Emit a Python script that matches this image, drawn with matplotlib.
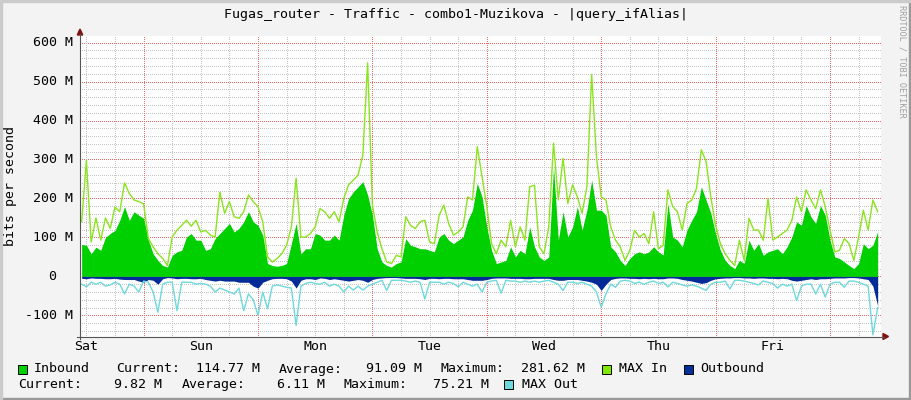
import numpy as np
import matplotlib
matplotlib.use("Agg")
import matplotlib.pyplot as plt
from matplotlib.patches import Rectangle, Polygon
from matplotlib.lines import Line2D
from matplotlib.transforms import blended_transform_factory

# hourly samples, hour 0 = Saturday 00:00
hours = np.arange(11, 179)

# Inbound (M bits/s)
inbound = [
    82, 80, 58, 75, 67, 100, 110, 118, 144, 179, 144, 166, 157, 149, 93, 58, 41, 28, 24, 54, 63, 67, 101, 110, 93, 93,
    67, 71, 97, 110, 123, 136, 114, 123, 140, 166, 140, 131, 106, 33, 28, 26, 28, 33, 84, 136, 58, 71, 71, 110,
    106, 93, 93, 106, 93, 157, 200, 217, 230, 243, 209, 157, 71, 37, 28, 24, 33, 37, 97, 80, 76, 71, 71, 67,
    63, 101, 110, 93, 84, 93, 101, 144, 170, 239, 204, 127, 67, 33, 37, 41, 76, 50, 67, 58, 127, 76, 50, 41, 50,
    281.6, 93, 166, 101, 127, 179, 119, 170, 247, 170, 170, 157, 76, 63, 41, 28, 46, 58, 63, 58, 63, 76, 63, 55,
    187, 101, 93, 76, 119, 144, 166, 230, 196, 162, 110, 67, 41, 28, 20, 41, 33, 93, 67, 84, 54, 63, 67, 71,
    58, 76, 101, 140, 131, 182, 153, 136, 182, 157, 93, 50, 46, 37, 28, 20, 33, 84, 71, 80, 114.8,
]

max_in = [
    140, 298, 88, 150, 93, 150, 123, 178, 166, 240, 213, 196, 192, 186, 97, 76, 58, 46, 28, 101, 119, 131, 144, 129, 144, 114,
    118, 106, 101, 216, 162, 192, 153, 149, 166, 209, 192, 179, 140, 50, 37, 46, 58, 80, 127, 252, 101, 101, 110, 127,
    174, 166, 149, 166, 140, 200, 235, 247, 260, 312, 548, 183, 114, 71, 37, 33, 54, 50, 153, 131, 123, 140, 144, 88,
    84, 157, 183, 136, 106, 114, 127, 204, 196, 333, 256, 179, 84, 58, 93, 76, 144, 76, 127, 93, 230, 234, 76, 58, 127,
    342, 196, 303, 187, 235, 204, 162, 230, 518, 308, 204, 196, 127, 93, 76, 41, 67, 118, 101, 110, 84, 166, 71, 80,
    222, 179, 166, 119, 187, 196, 226, 325, 295, 204, 131, 84, 58, 41, 28, 93, 41, 149, 119, 119, 93, 200, 93, 101,
    110, 119, 144, 204, 166, 222, 196, 174, 222, 179, 119, 63, 67, 97, 84, 41, 101, 170, 119, 196, 166,
]

# Outbound is drawn below zero
outbound = [
    -5, -6, -4, -5, -5, -6, -6, -5, -7, -8, -8, -8, -12, -15, -8, -10, -20, -6, -3, -4, -6, -5, -5, -6, -6, -5,
    -8, -10, -12, -10, -12, -12, -12, -15, -15, -15, -25, -30, -15, -10, -6, -5, -5, -6, -12, -30, -10, -6, -6, -8,
    -4, -5, -8, -6, -8, -10, -12, -10, -8, -10, -15, -8, -5, -4, -3, -3, -3, -4, -5, -5, -5, -6, -8, -5,
    -5, -6, -5, -5, -6, -6, -6, -8, -10, -10, -10, -8, -5, -4, -4, -4, -5, -5, -5, -6, -6, -5, -5, -5, -5,
    -8, -10, -10, -8, -8, -8, -10, -12, -15, -20, -36, -20, -8, -5, -4, -4, -5, -5, -6, -5, -6, -5, -6, -6,
    -4, -4, -5, -8, -10, -12, -15, -18, -16, -10, -6, -5, -4, -4, -3, -3, -4, -4, -5, -4, -4, -5, -5, -6,
    -5, -6, -10, -12, -10, -8, -6, -8, -6, -6, -5, -4, -4, -4, -3, -3, -4, -6, -8, -25, -75,
]

max_out = [
    -20, -27, -15, -20, -15, -25, -22, -15, -20, -45, -20, -25, -40, -12, -15, -40, -92, -20, -15, -15, -88, -15, -15, -15, -20, -18,
    -20, -25, -40, -30, -35, -40, -45, -30, -88, -45, -60, -100, -40, -83, -25, -22, -25, -28, -30, -126, -25, -18, -15, -18,
    -20, -15, -25, -20, -25, -40, -25, -35, -25, -35, -25, -20, -15, -10, -36, -10, -10, -10, -12, -15, -12, -15, -58, -15,
    -15, -15, -20, -15, -18, -27, -15, -20, -25, -20, -40, -15, -12, -10, -43, -10, -12, -12, -15, -12, -15, -12, -15, -12, -10,
    -15, -20, -36, -15, -15, -18, -15, -20, -25, -40, -79, -45, -20, -28, -12, -10, -12, -18, -15, -20, -15, -12, -18, -15,
    -27, -15, -18, -22, -25, -22, -25, -30, -36, -20, -15, -15, -12, -32, -10, -10, -12, -15, -18, -22, -12, -15, -18, -30,
    -20, -25, -20, -62, -25, -20, -20, -45, -20, -53, -20, -15, -15, -28, -12, -12, -15, -20, -25, -150, -80,
]

days = ["Sat", "Sun", "Mon", "Tue", "Wed", "Thu", "Fri"]
day_centers = [12, 36, 60, 84, 108, 132, 156]
ytick_vals = [-100, 0, 100, 200, 300, 400, 500, 600]
ytick_labels = ["-100 M", "0", "100 M", "200 M", "300 M", "400 M", "500 M", "600 M"]

title = "Fugas_router - Traffic - combo1-Muzikova - |query_ifAlias|"
legend_row1 = [("Inbound", 33.7), ("Current:", 116.3), ("Average:", 279), ("Maximum:", 440.7)]
legend_row1_vals = [("114.77 M", 260), ("91.09 M", 422.5), ("281.62 M", 585)]
legend_row2 = [("Current:", 18.6), ("Average:", 181.4), ("Maximum:", 343)]
legend_row2_vals = [("9.82 M", 162.5), ("6.11 M", 324.7), ("75.21 M", 489)]

C_IN = "#00CF00"
C_MAXIN = "#8AE41E"
C_OUT = "#002A97"
C_MAXOUT = "#6ED9DC"

W, H = 911, 400
MONO = "DejaVu Sans Mono"
FS = 9.5


def fx(x):
    return x / W


def fy(y):
    return 1 - y / H


fig = plt.figure(figsize=(W / 100, H / 100), dpi=100, facecolor="#F3F3F3")

# frame shading
fig.patches.append(Rectangle((0, 0), 1, 2 / H, transform=fig.transFigure, color="#999999", zorder=0))
fig.patches.append(Rectangle((fx(W - 2), 0), 2 / W, 1, transform=fig.transFigure, color="#999999", zorder=0))
fig.patches.append(Rectangle((0, fy(2)), 1, 2 / H, transform=fig.transFigure, color="#CBCBCB", zorder=0))
fig.patches.append(Rectangle((0, 0), 2 / W, 1, transform=fig.transFigure, color="#CBCBCB", zorder=0))

ax = fig.add_axes([fx(80), fy(336.5), 801 / W, 300.5 / H])
ax.set_facecolor("white")
pph = 114.4 / 24
ax.set_xlim(24 - (143.6 - 80) / pph, 24 + (881 - 143.6) / pph)
ppm = 38.97 / 100
ax.set_ylim(-(336.5 - 276.4) / ppm, (276.4 - 36) / ppm)
for s in ax.spines.values():
    s.set_visible(False)

# grid, dotted
dots = (0, (1.0, 2.0))
for v in range(-140, 620, 20):
    col = "#F26A6A" if v % 100 == 0 else "#C6C6C6"
    ax.axhline(v, color=col, lw=0.72, ls=dots, antialiased=False, zorder=1)
for h in range(12, 179, 6):
    col = "#F26A6A" if h % 24 == 0 else "#C6C6C6"
    ax.axvline(h, color=col, lw=0.72, ls=dots, antialiased=False, zorder=1)

# data
ax.fill_between(hours, 0, inbound, color=C_IN, lw=0, zorder=2)
ax.plot(hours, max_in, color=C_MAXIN, lw=1.0, zorder=3)
ax.fill_between(hours, 0, outbound, color=C_OUT, lw=0, zorder=2)
ax.plot(hours, max_out, color=C_MAXOUT, lw=1.0, zorder=3)

ax.set_xticks([])
ax.set_yticks([])

# axes lines and arrows
fig.lines.append(Line2D([fx(80), fx(80)], [fy(339), fy(34)], transform=fig.transFigure, color="#555555", lw=0.8))
fig.lines.append(Line2D([fx(77), fx(884)], [fy(336.5), fy(336.5)], transform=fig.transFigure, color="#555555", lw=0.8))
fig.patches.append(Polygon([(fx(77.3), fy(35)), (fx(82.7), fy(35)), (fx(80), fy(29))],
                           closed=True, transform=fig.transFigure, color="#7F1010"))
fig.patches.append(Polygon([(fx(883), fy(333.5)), (fx(883), fy(339.5)), (fx(888.5), fy(336.5))],
                           closed=True, transform=fig.transFigure, color="#7F1010"))

# tick labels
ty = blended_transform_factory(fig.transFigure, ax.transData)
for v, lab in zip(ytick_vals, ytick_labels):
    xr = 56 if lab == "0" else 72.7
    ax.text(fx(xr), v, lab, transform=ty, ha="right", va="center", family=MONO, fontsize=FS)
tx = blended_transform_factory(ax.transData, fig.transFigure)
for d, c in zip(days, day_centers):
    ax.text(c, fy(346.7), d, transform=tx, ha="center", va="center", family=MONO, fontsize=FS)

fig.text(fx(10.5), fy(186), "bits per second", rotation=90, ha="center", va="center", family=MONO, fontsize=FS)
fig.text(fx(455.5), fy(14.5), title, ha="center", va="center", family=MONO, fontsize=FS)
fig.text(fx(901.7), fy(5), "RRDTOOL / TOBI OETIKER", rotation=270, ha="center", va="top",
         family=MONO, fontsize=6.1, color="#A0A0A0")


# legend
def box(x, y, c):
    fig.patches.append(Rectangle((fx(x), fy(y + 9)), 9 / W, 9 / H, transform=fig.transFigure,
                                 facecolor=c, edgecolor="black", lw=0.7))


r1, r2 = 369, 384.5
box(17.8, r1 - 4.5, C_IN)
box(602, r1 - 4.5, "#7FE800")
box(683.5, r1 - 4.5, "#00319A")
box(504, r2 - 4.5, C_MAXOUT)
for t, x in legend_row1 + [("MAX In", 618.6), ("Outbound", 700.6)]:
    fig.text(fx(x), fy(r1), t, ha="left", va="center", family=MONO, fontsize=FS)
for t, x in legend_row1_vals:
    fig.text(fx(x), fy(r1), t, ha="right", va="center", family=MONO, fontsize=FS)
for t, x in legend_row2 + [("MAX Out", 521.5)]:
    fig.text(fx(x), fy(r2), t, ha="left", va="center", family=MONO, fontsize=FS)
for t, x in legend_row2_vals:
    fig.text(fx(x), fy(r2), t, ha="right", va="center", family=MONO, fontsize=FS)

fig.savefig("out.png", dpi=100, facecolor=fig.get_facecolor())
